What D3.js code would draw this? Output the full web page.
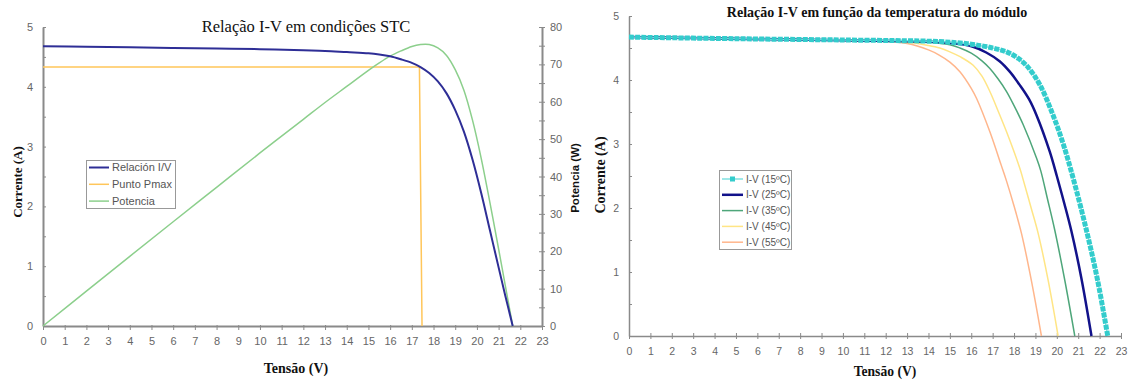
<!DOCTYPE html>
<html><head><meta charset="utf-8">
<script src="https://cdn.jsdelivr.net/npm/d3@7"></script>
<style>body{margin:0;background:#fff}svg{display:block}</style>
</head><body>
<svg id="c" width="1131" height="380"></svg>
<script>
// ---------- Left chart data (STC) ----------
const stcV = [0,2,4,6,8,10,12,13,14,15,15.5,16,16.5,17,17.4,17.8,18.2,18.6,19,19.4,19.8,20.2,20.6,21,21.3,21.65];
const stcI = [4.68,4.67,4.66,4.65,4.64,4.63,4.61,4.6,4.58,4.56,4.54,4.51,4.46,4.4,4.33,4.23,4.09,3.89,3.61,3.25,2.78,2.22,1.6,0.98,0.52,0];
const stcP = [0,9.34,18.64,27.9,37.1,46.3,55.3,59.8,64.1,68.4,70.4,72.2,73.6,74.8,75.3,75.3,74.4,72.4,68.6,63.1,55.0,44.8,33.0,20.6,11.1,0];
const pmaxV = [0,17.35,17.47];
const pmaxI = [4.33,4.33,0];
const leftLegend = ["Relación I/V","Punto Pmax","Potencia"];
const xTicks = d3.range(0,24);
const iTicks = [0,1,2,3,4,5];
const pTicks = [0,10,20,30,40,50,60,70,80];

// ---------- Right chart data (temperature) ----------
const t15V = [0,5,10,14.5,16,17,17.65,18.1,18.6,19.2,19.8,20.3,20.8,21.4,21.9,22.38];
const t15I = [4.67,4.645,4.625,4.6,4.56,4.5,4.44,4.36,4.22,3.93,3.47,3.0,2.42,1.63,0.88,0];
const t25V = [0,5,10,14,15,16.08,16.7,17.34,17.8,18.27,18.7,19.05,19.67,20.0,20.35,20.68,21.15,21.62];
const t25I = [4.67,4.645,4.62,4.6,4.58,4.52,4.43,4.29,4.13,3.92,3.7,3.45,2.88,2.5,2.07,1.64,0.9,0];
const t35V = [0,5,10,14,15,15.47,16,16.5,16.87,17.25,17.65,18,18.43,19.05,19.25,19.55,19.9,20.37,20.84];
const t35I = [4.67,4.645,4.62,4.59,4.55,4.5,4.42,4.3,4.18,4.02,3.82,3.6,3.3,2.78,2.58,2.16,1.66,0.875,0];
const t45V = [0,5,10,13,14,14.53,15,15.5,16.09,16.5,16.87,17.25,17.65,18.27,18.43,18.8,19.13,19.6,20.06];
const t45I = [4.67,4.645,4.62,4.59,4.54,4.5,4.44,4.36,4.23,4.06,3.82,3.52,3.19,2.62,2.44,2.0,1.6,0.86,0];
const t55V = [0,5,10,12,13,14,14.5,15,15.47,16,16.25,16.87,17.4,17.65,18,18.35,18.82,19.28];
const t55I = [4.67,4.645,4.62,4.6,4.57,4.47,4.39,4.28,4.13,3.87,3.71,3.19,2.67,2.42,2.03,1.6,0.85,0];
const tempLabels = ["I-V (15ºC)","I-V (25ºC)","I-V (35ºC)","I-V (45ºC)","I-V (55ºC)"];

const svg = d3.select("#c");
const SANS = "'Liberation Sans', Arial, sans-serif";
const SERIF = "'Liberation Serif', 'Times New Roman', serif";
const AX = "#8a8a8a", TXT = "#666";
const zip = (a,b) => a.map((v,i)=>[v,b[i]]);
const fmt = d3.format("d");
const smooth = d3.curveCatmullRom.alpha(0.5);

function styleAxis(g, w, size){
  g.select(".domain").attr("stroke", AX).attr("stroke-width", w);
  g.selectAll(".tick line").attr("stroke", AX).attr("stroke-width", 1);
  g.selectAll(".tick text").attr("fill", TXT).style("font-family", SANS).style("font-size", size+"px");
}

// ================= LEFT =================
{
  const x = d3.scaleLinear([0,23],[43,542]);
  const y = d3.scaleLinear([0,5],[326,27]);
  const p = d3.scaleLinear([0,80],[326,27]);
  const L = svg.append("g");

  const gx = L.append("g").attr("transform","translate(0,326)")
    .call(d3.axisBottom(x).tickValues(xTicks).tickFormat(fmt).tickSize(4).tickSizeOuter(0).tickPadding(7));
  styleAxis(gx, 2, 11);
  gx.selectAll(".tick line").attr("y1",-1);
  const gy = L.append("g").attr("transform","translate(43,0)")
    .call(d3.axisLeft(y).tickValues(iTicks).tickFormat(fmt).tickSize(3).tickSizeOuter(0).tickPadding(7));
  styleAxis(gy, 2, 11);
  gy.selectAll(".tick line").attr("x2",3);
  const gym = L.append("g").attr("transform","translate(43,0)")
    .call(d3.axisLeft(y).tickValues(iTicks.slice(0,-1).map(d=>d+0.5)).tickSize(3).tickFormat(""));
  gym.select(".domain").remove();
  gym.selectAll(".tick line").attr("stroke",AX).attr("x2",3);
  const gp = L.append("g").attr("transform","translate(542,0)")
    .call(d3.axisRight(p).tickValues(pTicks).tickFormat(fmt).tickSize(3).tickSizeOuter(0).tickPadding(5));
  styleAxis(gp, 2, 11);
  gp.selectAll(".tick line").attr("x2",3).attr("x1",-3);
  const gpm = L.append("g").attr("transform","translate(542,0)")
    .call(d3.axisRight(p).tickValues(pTicks.slice(0,-1).map(d=>d+5)).tickSize(3).tickFormat(""));
  gpm.select(".domain").remove();
  gpm.selectAll(".tick line").attr("stroke",AX).attr("x1",-3);

  const lineI = d3.line().x(d=>x(d[0])).y(d=>y(d[1])).curve(smooth);
  const lineP = d3.line().x(d=>x(d[0])).y(d=>p(d[1])).curve(smooth);
  const lineLin = d3.line().x(d=>x(d[0])).y(d=>y(d[1]));

  L.append("path").attr("d", lineLin(zip(pmaxV,pmaxI))).attr("fill","none").attr("stroke","#ffc65a").attr("stroke-width",1.5);
  L.append("path").attr("d", lineP(zip(stcV,stcP))).attr("fill","none").attr("stroke","#8ccf8c").attr("stroke-width",1.5);
  L.append("path").attr("d", lineI(zip(stcV,stcI))).attr("fill","none").attr("stroke","#2e2e96").attr("stroke-width",2);

  L.append("text").attr("x",306).attr("y",32).attr("text-anchor","middle")
    .style("font-family",SERIF).style("font-size","16.5px").attr("fill","#111").text("Relação I-V em condições STC");
  L.append("text").attr("x",296).attr("y",373).attr("text-anchor","middle")
    .style("font-family",SERIF).style("font-size","14px").style("font-weight","bold").attr("fill","#111").text("Tensão (V)");
  L.append("text").attr("transform","translate(22,182) rotate(-90)").attr("text-anchor","middle")
    .style("font-family",SERIF).style("font-size","13px").style("font-weight","bold").attr("fill","#111").text("Corrente (A)");
  L.append("text").attr("transform","translate(579,178) rotate(-90)").attr("text-anchor","middle")
    .style("font-family",SANS).style("font-size","11.5px").style("font-weight","bold").attr("fill","#111").text("Potencia (W)");

  const cols = ["#2e2e96","#ffc65a","#8ccf8c"];
  const lg = L.append("g");
  lg.append("rect").attr("x",86.5).attr("y",160.5).attr("width",89).attr("height",48)
    .attr("fill","#fff").attr("stroke","#999").attr("stroke-width",1);
  leftLegend.forEach((t,i)=>{
    const yy = 167.5 + i*16.8;
    lg.append("line").attr("x1",89).attr("x2",109).attr("y1",yy).attr("y2",yy).attr("stroke",cols[i]).attr("stroke-width",i===0?2:1.5);
    lg.append("text").attr("x",112).attr("y",yy).attr("dy","0.36em").style("font-family",SANS).style("font-size","11px").attr("fill","#555").text(t);
  });
}

// ================= RIGHT =================
{
  const x = d3.scaleLinear([0,23],[629,1121]);
  const y = d3.scaleLinear([0,5],[336,16]);
  const R = svg.append("g");

  const gx = R.append("g").attr("transform","translate(0,336)")
    .call(d3.axisBottom(x).tickValues(xTicks).tickFormat(fmt).tickSize(3).tickSizeOuter(0).tickPadding(9));
  styleAxis(gx, 1.5, 10.5);
  gx.selectAll(".tick line").attr("y1",-3);
  const gy = R.append("g").attr("transform","translate(629,0)")
    .call(d3.axisLeft(y).tickValues(iTicks).tickFormat(fmt).tickSize(3).tickSizeOuter(0).tickPadding(7));
  styleAxis(gy, 1.5, 10.5);
  gy.selectAll(".tick line").attr("x2",3);
  const gym = R.append("g").attr("transform","translate(629,0)")
    .call(d3.axisLeft(y).tickValues(iTicks.slice(0,-1).map(d=>d+0.5)).tickSize(3).tickFormat(""));
  gym.select(".domain").remove();
  gym.selectAll(".tick line").attr("stroke",AX).attr("x2",3);

  const line = d3.line().x(d=>x(d[0])).y(d=>y(d[1])).curve(smooth);
  const series = [
    {v:t55V, i:t55I, c:"#ffb68c", w:1.5},
    {v:t45V, i:t45I, c:"#ffe585", w:1.5},
    {v:t35V, i:t35I, c:"#4ea67a", w:1.5},
    {v:t25V, i:t25I, c:"#12128a", w:2.5},
  ];
  series.forEach(s=>{
    R.append("path").attr("d", line(zip(s.v,s.i))).attr("fill","none").attr("stroke",s.c).attr("stroke-width",s.w);
  });
  const d15 = line(zip(t15V,t15I));
  R.append("path").attr("d", d15).attr("fill","none").attr("stroke","#7fe0e0").attr("stroke-width",1.5);
  R.append("path").attr("d", d15).attr("fill","none").attr("stroke","#33cccc").attr("stroke-width",5)
    .attr("stroke-dasharray","5,1.2").attr("stroke-linecap","butt");

  R.append("text").attr("x",877).attr("y",17).attr("text-anchor","middle")
    .style("font-family",SERIF).style("font-size","14px").style("font-weight","bold").attr("fill","#111")
    .text("Relação I-V em função da temperatura do módulo");
  R.append("text").attr("x",885).attr("y",376).attr("text-anchor","middle")
    .style("font-family",SERIF).style("font-size","13.6px").style("font-weight","bold").attr("fill","#111").text("Tensão (V)");
  R.append("text").attr("transform","translate(605,175) rotate(-90)").attr("text-anchor","middle")
    .style("font-family",SERIF).style("font-size","14px").style("font-weight","bold").attr("fill","#111").text("Corrente (A)");

  const cols = ["#33cccc","#12128a","#4ea67a","#ffe585","#ffb68c"];
  const lg = R.append("g");
  lg.append("rect").attr("x",719.5).attr("y",170.5).attr("width",72).attr("height",79)
    .attr("fill","#fff").attr("stroke","#999").attr("stroke-width",1);
  tempLabels.forEach((t,i)=>{
    const yy = 179 + i*15.8;
    lg.append("line").attr("x1",722).attr("x2",743).attr("y1",yy).attr("y2",yy)
      .attr("stroke", i===0 ? "#7fe0e0" : cols[i]).attr("stroke-width", i===1?2.5:1.5);
    if(i===0) lg.append("rect").attr("x",730).attr("y",yy-2.5).attr("width",5).attr("height",5).attr("fill","#33cccc");
    lg.append("text").attr("x",746).attr("y",yy).attr("dy","0.36em").style("font-family",SANS).style("font-size","10px").attr("fill","#555").text(t);
  });
}
</script>
</body></html>
